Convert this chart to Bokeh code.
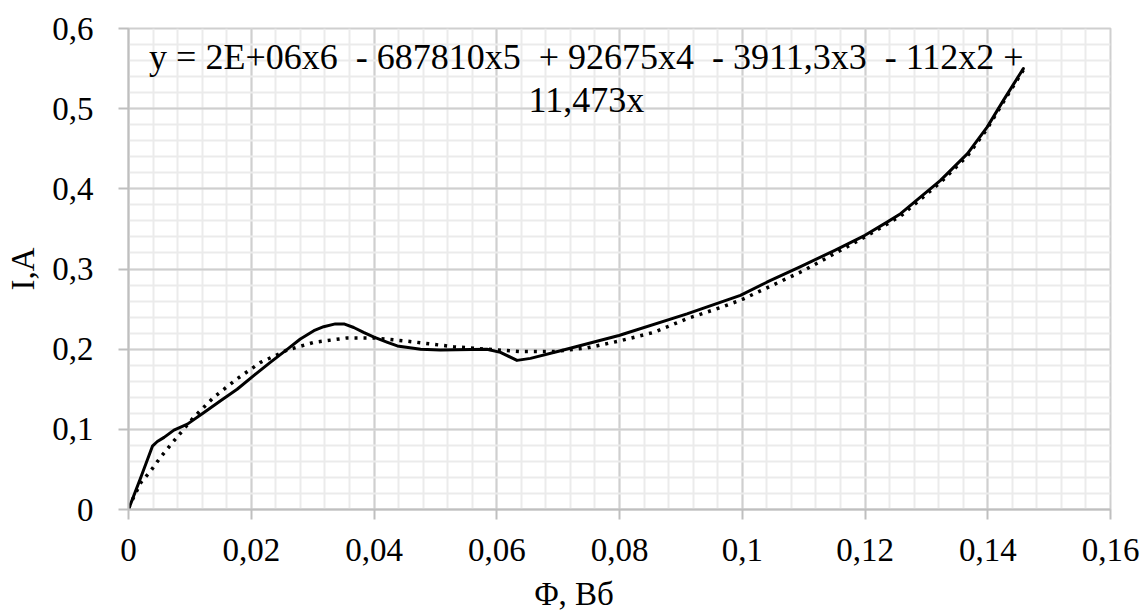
from bokeh.plotting import figure
from bokeh.models import FixedTicker, Label, Range1d
from bokeh.embed import file_html
from bokeh.resources import INLINE

# ---- data ----
flux = [0, 0.002, 0.0039, 0.0047, 0.0058, 0.0074, 0.0096, 0.0123, 0.015, 0.0177,
        0.0204, 0.0231, 0.0259, 0.028, 0.0302, 0.0318, 0.0337, 0.0351, 0.0367, 0.0383,
        0.040, 0.0422, 0.0438, 0.0476, 0.0508, 0.0584, 0.0606, 0.0633, 0.0655, 0.0704,
        0.0799, 0.091, 0.0997, 0.104, 0.1095, 0.115, 0.120, 0.1236, 0.1258, 0.1323,
        0.1367, 0.1399, 0.1426, 0.1458]
current = [0, 0.040, 0.079, 0.0848, 0.090, 0.099, 0.1065, 0.121, 0.1356, 0.150,
           0.167, 0.1835, 0.200, 0.2127, 0.223, 0.228, 0.2315, 0.2315, 0.227, 0.221,
           0.215, 0.2085, 0.204, 0.200, 0.199, 0.200, 0.196, 0.186, 0.1885, 0.198,
           0.217, 0.244, 0.267, 0.2835, 0.303, 0.323, 0.342, 0.3585, 0.369, 0.4106,
           0.444, 0.477, 0.511, 0.550]

trend_x = [0, 0.002, 0.0036, 0.0052, 0.0074, 0.0106, 0.0139, 0.0177, 0.0215, 0.0259,
           0.0302, 0.0356, 0.040, 0.0454, 0.053, 0.0584, 0.0639, 0.0693, 0.0747, 0.0802,
           0.0856, 0.091, 0.0965, 0.1, 0.11, 0.12, 0.1258, 0.1323, 0.1367, 0.1399, 0.1426, 0.1458]
trend_y = [0.002, 0.0335, 0.048, 0.065, 0.0856, 0.1148, 0.140, 0.163, 0.1835, 0.199,
           0.2085, 0.214, 0.214, 0.210, 0.203, 0.200, 0.197, 0.197, 0.2015, 0.2106,
           0.221, 0.238, 0.252, 0.262, 0.298, 0.340, 0.366, 0.408, 0.441, 0.475, 0.509, 0.548]

x_ticks = [0, 0.02, 0.04, 0.06, 0.08, 0.1, 0.12, 0.14, 0.16]
x_tick_labels = ["0", "0,02", "0,04", "0,06", "0,08", "0,1", "0,12", "0,14", "0,16"]
y_ticks = [0, 0.1, 0.2, 0.3, 0.4, 0.5, 0.6]
y_tick_labels = ["0", "0,1", "0,2", "0,3", "0,4", "0,5", "0,6"]
x_minor = [round(i * 0.004, 3) for i in range(41)]
y_minor = [round(i * 0.02, 2) for i in range(31)]

NB = "\u00a0"
equation_line1 = ("y = 2E+06x6 " + NB + "- 687810x5 " + NB + "+ 92675x4 " + NB +
                  "- 3911,3x3 " + NB + "- 112x2 +")
equation_line2 = "11,473x"
x_title = "Φ, Вб"
y_title = "I,A"

FONT = "Liberation Serif"
MAJOR = "#cfcfcf"
MINOR = "#ebebeb"

p = figure(width=1145, height=614, output_backend="svg", toolbar_location=None,
           x_range=Range1d(0, 0.16), y_range=Range1d(0, 0.6),
           min_border_left=128, min_border_right=35, min_border_top=28, min_border_bottom=105)
p.background_fill_color = "white"
p.border_fill_color = "white"
p.outline_line_color = MAJOR
p.outline_line_width = 2

p.xaxis.ticker = FixedTicker(ticks=x_ticks, minor_ticks=x_minor)
p.yaxis.ticker = FixedTicker(ticks=y_ticks, minor_ticks=y_minor)
p.xaxis.major_label_overrides = dict(zip(x_ticks, x_tick_labels))
p.yaxis.major_label_overrides = dict(zip(y_ticks, y_tick_labels))

for ax in (p.xaxis, p.yaxis):
    ax.axis_line_color = "#bfbfbf"
    ax.axis_line_width = 2
    ax.major_tick_line_color = "#bfbfbf"
    ax.major_tick_line_width = 2
    ax.major_tick_out = 10
    ax.major_tick_in = 0
    ax.minor_tick_line_color = None
    ax.major_label_text_font = FONT
    ax.major_label_text_font_size = "33px"
    ax.major_label_text_color = "black"
    ax.axis_label_text_font = FONT
    ax.axis_label_text_font_size = "33px"
    ax.axis_label_text_font_style = "normal"
    ax.axis_label_text_color = "black"
p.xaxis.major_label_standoff = 19
p.yaxis.major_label_standoff = 25
p.xaxis.axis_label = x_title + NB * 11
p.xaxis.axis_label_standoff = 12
p.yaxis.axis_label = y_title
p.yaxis.axis_label_standoff = 8

for g in (p.xgrid, p.ygrid):
    g.grid_line_color = MAJOR
    g.grid_line_width = 2
    g.minor_grid_line_color = MINOR
    g.minor_grid_line_width = 2
p.xgrid.ticker = p.xaxis.ticker
p.ygrid.ticker = p.yaxis.ticker

p.line(trend_x, trend_y, line_color="black", line_width=3.5, line_dash="3 6")
p.line(flux, current, line_color="black", line_width=3, line_join="round", line_cap="round")

p.add_layout(Label(x=0.0746, y=0.564, text=equation_line1, text_align="center",
                   text_baseline="middle", text_font=FONT, text_font_size="36px",
                   text_color="black"))
p.add_layout(Label(x=0.0746, y=0.511, text=equation_line2, text_align="center",
                   text_baseline="middle", text_font=FONT, text_font_size="36px",
                   text_color="black"))

open("out.html", "w").write(file_html(p, INLINE))
